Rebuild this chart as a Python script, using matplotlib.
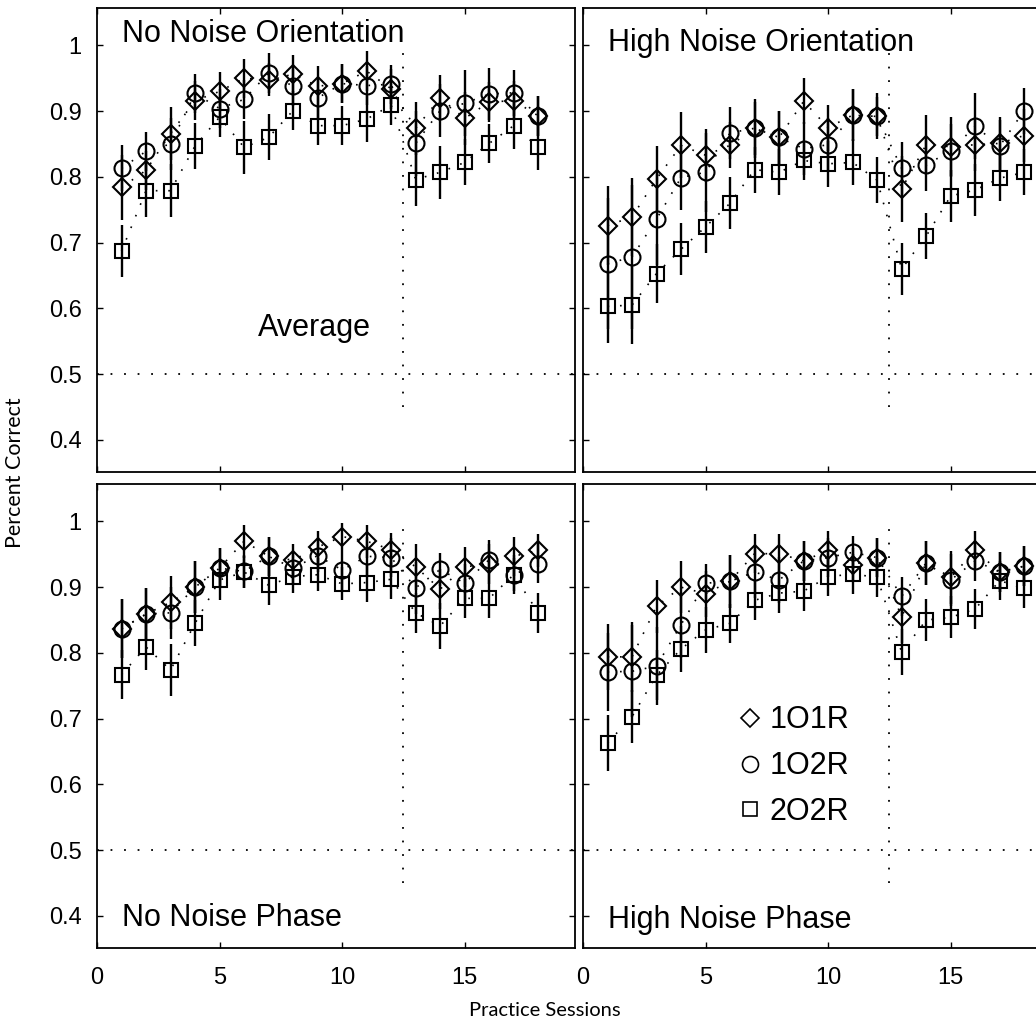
import numpy as np
import matplotlib
matplotlib.use("Agg")
from matplotlib import pyplot as plt
from matplotlib.lines import Line2D

plt.rcParams['font.family'] = ['Liberation Sans', 'DejaVu Sans']

SESSIONS = np.arange(1, 19)
SPLIT_SESSION = 12.5
CHANCE = 0.5

# No Noise Orientation (Average)
NNO_1O1R = [0.784, 0.81, 0.866, 0.916, 0.93, 0.95, 0.948, 0.956, 0.938, 0.942, 0.961, 0.934, 0.874, 0.92, 0.889, 0.914, 0.916, 0.893]
NNO_1O2R = [0.813, 0.839, 0.85, 0.927, 0.904, 0.918, 0.958, 0.938, 0.92, 0.942, 0.939, 0.941, 0.851, 0.901, 0.912, 0.926, 0.928, 0.893]
NNO_2O2R = [0.687, 0.779, 0.779, 0.847, 0.891, 0.845, 0.86, 0.901, 0.878, 0.878, 0.888, 0.909, 0.796, 0.807, 0.822, 0.851, 0.878, 0.845]
NNO_1O1R_ERR = [0.05, 0.03, 0.04, 0.03, 0.03, 0.03, 0.025, 0.03, 0.03, 0.03, 0.03, 0.03, 0.04, 0.035, 0.04, 0.03, 0.03, 0.03]
NNO_1O2R_ERR = [0.035, 0.03, 0.04, 0.03, 0.03, 0.03, 0.03, 0.03, 0.03, 0.03, 0.03, 0.03, 0.05, 0.04, 0.05, 0.04, 0.035, 0.03]
NNO_2O2R_ERR = [0.04, 0.04, 0.04, 0.035, 0.03, 0.04, 0.035, 0.03, 0.03, 0.03, 0.035, 0.03, 0.04, 0.04, 0.035, 0.03, 0.035, 0.035]

# High Noise Orientation
HNO_1O1R = [0.726, 0.739, 0.797, 0.848, 0.833, 0.848, 0.874, 0.86, 0.915, 0.875, 0.894, 0.892, 0.782, 0.849, 0.846, 0.849, 0.851, 0.863]
HNO_1O2R = [0.668, 0.678, 0.736, 0.799, 0.807, 0.867, 0.874, 0.86, 0.843, 0.849, 0.894, 0.892, 0.813, 0.818, 0.84, 0.877, 0.847, 0.901]
HNO_2O2R = [0.603, 0.605, 0.653, 0.69, 0.724, 0.76, 0.811, 0.807, 0.825, 0.82, 0.822, 0.795, 0.66, 0.71, 0.771, 0.78, 0.798, 0.807]
HNO_1O1R_ERR = [0.06, 0.06, 0.05, 0.05, 0.04, 0.035, 0.045, 0.04, 0.035, 0.035, 0.04, 0.035, 0.05, 0.045, 0.045, 0.04, 0.04, 0.04]
HNO_1O2R_ERR = [0.1, 0.11, 0.07, 0.05, 0.06, 0.04, 0.04, 0.04, 0.04, 0.04, 0.04, 0.03, 0.04, 0.04, 0.04, 0.05, 0.04, 0.035]
HNO_2O2R_ERR = [0.055, 0.06, 0.045, 0.04, 0.04, 0.04, 0.035, 0.035, 0.03, 0.035, 0.035, 0.035, 0.04, 0.035, 0.04, 0.04, 0.035, 0.035]

# No Noise Phase
NNP_1O1R = [0.837, 0.859, 0.877, 0.9, 0.929, 0.97, 0.947, 0.941, 0.961, 0.977, 0.97, 0.957, 0.931, 0.897, 0.931, 0.935, 0.947, 0.956]
NNP_1O2R = [0.837, 0.859, 0.861, 0.9, 0.929, 0.924, 0.947, 0.929, 0.948, 0.926, 0.947, 0.945, 0.899, 0.927, 0.906, 0.942, 0.919, 0.936]
NNP_2O2R = [0.767, 0.809, 0.774, 0.845, 0.911, 0.923, 0.903, 0.916, 0.919, 0.905, 0.907, 0.912, 0.861, 0.841, 0.883, 0.883, 0.919, 0.861]
NNP_1O1R_ERR = [0.045, 0.04, 0.04, 0.04, 0.03, 0.025, 0.03, 0.025, 0.025, 0.02, 0.025, 0.025, 0.035, 0.03, 0.03, 0.03, 0.03, 0.025]
NNP_1O2R_ERR = [0.045, 0.04, 0.04, 0.04, 0.03, 0.025, 0.03, 0.025, 0.025, 0.03, 0.03, 0.03, 0.04, 0.025, 0.03, 0.03, 0.03, 0.03]
NNP_2O2R_ERR = [0.037, 0.035, 0.04, 0.035, 0.03, 0.025, 0.03, 0.025, 0.025, 0.025, 0.03, 0.03, 0.03, 0.035, 0.03, 0.03, 0.025, 0.03]

# High Noise Phase
HNP_1O1R = [0.794, 0.794, 0.871, 0.9, 0.89, 0.909, 0.951, 0.951, 0.94, 0.956, 0.934, 0.945, 0.855, 0.937, 0.915, 0.956, 0.923, 0.932]
HNP_1O2R = [0.771, 0.772, 0.78, 0.843, 0.906, 0.909, 0.923, 0.911, 0.94, 0.945, 0.953, 0.945, 0.886, 0.937, 0.911, 0.94, 0.923, 0.932]
HNP_2O2R = [0.663, 0.703, 0.766, 0.806, 0.835, 0.845, 0.88, 0.891, 0.894, 0.916, 0.92, 0.915, 0.801, 0.85, 0.854, 0.867, 0.91, 0.898]
HNP_1O1R_ERR = [0.05, 0.053, 0.04, 0.04, 0.035, 0.04, 0.03, 0.03, 0.03, 0.03, 0.025, 0.03, 0.04, 0.033, 0.04, 0.03, 0.03, 0.03]
HNP_1O2R_ERR = [0.06, 0.07, 0.06, 0.05, 0.03, 0.04, 0.04, 0.035, 0.03, 0.03, 0.025, 0.03, 0.03, 0.033, 0.04, 0.03, 0.03, 0.03]
HNP_2O2R_ERR = [0.042, 0.04, 0.038, 0.035, 0.035, 0.03, 0.03, 0.03, 0.03, 0.03, 0.03, 0.03, 0.035, 0.032, 0.032, 0.03, 0.03, 0.03]

CONDITIONS = ["1O1R", "1O2R", "2O2R"]
MARKERS = {"1O1R": ("D", 8.7), "1O2R": ("o", 11.5), "2O2R": ("s", 9.5)}

Y_TICKS = [0.4, 0.5, 0.6, 0.7, 0.8, 0.9, 1.0]
Y_TICK_LABELS = ["0.4", "0.5", "0.6", "0.7", "0.8", "0.9", "1"]
X_TICKS = [0, 5, 10, 15]

# panel layout in figure pixels (1036 x 1025)
W, H = 1036.0, 1025.0
LEFT_X, RIGHT_X, AX_W = 97 / W, 583 / W, 478 / W
TOP_Y, BOT_Y, AX_H = 1 - 472 / H, 1 - 948 / H, 464 / H

panels = [
    # title, title y, series, errors, position, show x labels, show y labels
    ("No Noise Orientation", 0.927, [NNO_1O1R, NNO_1O2R, NNO_2O2R],
     [NNO_1O1R_ERR, NNO_1O2R_ERR, NNO_2O2R_ERR], (LEFT_X, TOP_Y), False, True),
    ("High Noise Orientation", 0.907, [HNO_1O1R, HNO_1O2R, HNO_2O2R],
     [HNO_1O1R_ERR, HNO_1O2R_ERR, HNO_2O2R_ERR], (RIGHT_X, TOP_Y), False, False),
    ("No Noise Phase", 0.047, [NNP_1O1R, NNP_1O2R, NNP_2O2R],
     [NNP_1O1R_ERR, NNP_1O2R_ERR, NNP_2O2R_ERR], (LEFT_X, BOT_Y), True, True),
    ("High Noise Phase", 0.043, [HNP_1O1R, HNP_1O2R, HNP_2O2R],
     [HNP_1O1R_ERR, HNP_1O2R_ERR, HNP_2O2R_ERR], (RIGHT_X, BOT_Y), True, False),
]

fig = plt.figure(figsize=(10.36, 10.25), dpi=100)
axes = []

for title, title_y, series, errors, (x0, y0), show_x, show_y in panels:
    ax = fig.add_axes([x0, y0, AX_W, AX_H])
    axes.append(ax)

    # reference lines: chance level and the switch between blocks
    ax.axhline(CHANCE, color="k", lw=1.3, ls=(0, (1, 6.5)))
    ax.vlines(SPLIT_SESSION, 0.45, 0.99, color="k", lw=1.3, linestyles=[(0, (1, 6.5))])

    for cond, vals, errs in zip(CONDITIONS, series, errors):
        marker, ms = MARKERS[cond]
        ax.errorbar(SESSIONS, vals, yerr=errs, fmt="none", ecolor="k",
                    elinewidth=1.7, capsize=0)
        ax.plot(SESSIONS, vals, color="k", lw=1.2, ls=(0, (1, 6.5)),
                marker=marker, ms=ms, mfc="none", mec="k", mew=1.5)

    ax.set_xlim(0, 19.5)
    ax.set_ylim(0.351, 1.057)
    ax.set_xticks(X_TICKS)
    ax.set_yticks(Y_TICKS)
    ax.set_yticklabels(Y_TICK_LABELS)
    ax.tick_params(direction="in", top=True, right=True, length=4, width=1,
                   labelsize=17)
    ax.tick_params(axis="y", pad=11)
    ax.tick_params(axis="x", pad=14)
    if not show_x:
        ax.tick_params(axis="x", labelbottom=False)
    if not show_y:
        ax.tick_params(axis="y", labelleft=False)
    for sp in ax.spines.values():
        sp.set_linewidth(1.3)

    ax.text(0.052, title_y, title, transform=ax.transAxes, fontsize=22,
            ha="left", va="baseline")

axes[0].text(0.337, 0.293, "Average", transform=axes[0].transAxes, fontsize=22,
             ha="left", va="baseline")

handles = [Line2D([], [], ls="none", marker=MARKERS[c][0], ms=MARKERS[c][1],
                  mfc="none", mec="k", mew=1.2) for c in CONDITIONS]
axes[3].legend(handles, CONDITIONS, loc="upper left", bbox_to_anchor=(0.33, 0.523),
               frameon=False, fontsize=22, handlelength=0.6, handletextpad=0.35,
               labelspacing=0.52, borderpad=0, borderaxespad=0)

fig.text(0.0145, 0.539, "Percent Correct", rotation=90, ha="center", va="center",
         fontsize=15.5, family=["Lato", "DejaVu Sans"])
fig.text(0.526, 0.0146, "Practice Sessions", ha="center", va="center",
         fontsize=14.5, family=["Lato", "DejaVu Sans"])

fig.savefig("out.png", dpi=100)
